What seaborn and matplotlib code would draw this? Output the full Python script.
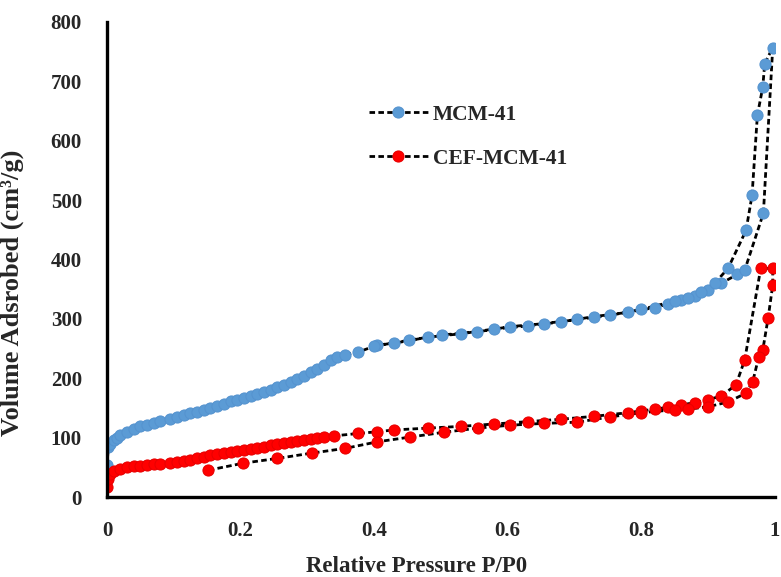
import pandas as pd
import matplotlib
matplotlib.use("Agg")
import matplotlib.pyplot as plt
import seaborn as sns

# MCM-41 adsorption branch (P/P0, cm3/g)
mcm_ads_p = [0.0, 0.002, 0.005, 0.01, 0.015, 0.02, 0.03, 0.04, 0.05, 0.06, 0.07, 0.08,
             0.095, 0.105, 0.115, 0.125, 0.135, 0.145, 0.155, 0.165, 0.175, 0.185, 0.195,
             0.205, 0.215, 0.225, 0.235, 0.245, 0.255, 0.265, 0.275, 0.285, 0.295, 0.305,
             0.315, 0.325, 0.335, 0.345, 0.357, 0.376, 0.405, 0.43, 0.48, 0.53, 0.58, 0.63,
             0.68, 0.73, 0.78, 0.82, 0.84, 0.86, 0.88, 0.90, 0.92, 0.944, 0.955, 0.983, 0.997]
mcm_ads_v = [54, 84, 90, 96, 100, 104, 110, 115, 119, 122, 125, 128,
             132, 135, 138, 141, 144, 147, 150, 154, 157, 161, 164,
             167, 170, 174, 177, 181, 185, 189, 194, 199, 204, 210,
             216, 223, 230, 236, 240, 244, 256, 259, 269, 275, 283, 288,
             295, 304, 311, 319, 325, 331, 338, 348, 360, 375, 382, 478, 757]
# MCM-41 desorption branch
mcm_des_p = [0.985, 0.982, 0.974, 0.966, 0.957, 0.93, 0.91, 0.89, 0.87, 0.85, 0.80,
             0.754, 0.704, 0.654, 0.604, 0.554, 0.502, 0.452, 0.40]
mcm_des_v = [730, 690, 643, 508, 449, 385, 360, 345, 335, 330, 316,
             306, 299, 292, 287, 278, 273, 264, 254]

# CEF-MCM-41 adsorption branch
cef_ads_p = [0.0, 0.002, 0.005, 0.01, 0.02, 0.03, 0.04, 0.05, 0.06, 0.07, 0.08,
             0.095, 0.105, 0.115, 0.125, 0.135, 0.145, 0.155, 0.165, 0.175, 0.185, 0.195,
             0.205, 0.215, 0.225, 0.235, 0.245, 0.255, 0.265, 0.275, 0.285, 0.295, 0.305,
             0.315, 0.325, 0.34, 0.376, 0.405, 0.43, 0.48, 0.53, 0.58, 0.63, 0.68, 0.73,
             0.78, 0.80, 0.82, 0.84, 0.86, 0.88, 0.90, 0.92, 0.942, 0.955, 0.979, 0.997]
cef_ads_v = [17, 30, 38, 43, 48, 51, 52, 53, 54, 55, 56,
             57, 59, 61, 63, 66, 68, 70, 72, 74, 76, 78,
             79, 81, 83, 85, 87, 89, 91, 93, 95, 96, 98,
             100, 101, 103, 107, 110, 113, 116, 119, 123, 127, 131, 136,
             142, 145, 148, 151, 155, 159, 164, 170, 189, 231, 385, 385]
# CEF-MCM-41 desorption branch
cef_des_p = [0.997, 0.99, 0.982, 0.976, 0.967, 0.957, 0.93, 0.90, 0.87, 0.85, 0.80,
             0.754, 0.704, 0.654, 0.604, 0.555, 0.504, 0.454, 0.405, 0.357, 0.307,
             0.255, 0.204, 0.151]
cef_des_v = [357, 301, 247, 236, 194, 175, 160, 152, 148, 147, 142,
             135, 126, 124, 121, 116, 109, 101, 93, 82, 74,
             65, 57, 45]

sns.set_style("white")
plt.rcParams['font.family'] = ['Liberation Serif', 'DejaVu Serif']
plt.rcParams['font.weight'] = 'bold'

mcm = pd.DataFrame({'p': mcm_ads_p + mcm_des_p, 'v': mcm_ads_v + mcm_des_v})
cef = pd.DataFrame({'p': cef_ads_p + cef_des_p, 'v': cef_ads_v + cef_des_v})

fig = plt.figure(figsize=(7.81, 5.77), dpi=100)
ax = fig.add_axes([0.137, 0.1386, 0.855, 0.8233])

line_kw = dict(sort=False, estimator=None, color='black', linestyle='--',
               linewidth=2.0, marker='o', markersize=8)
sns.lineplot(data=mcm, x='p', y='v', ax=ax, label='MCM-41',
             markerfacecolor='#5B9BD5', markeredgecolor='#5593CF', **line_kw)
sns.lineplot(data=cef, x='p', y='v', ax=ax, label='CEF-MCM-41',
             markerfacecolor='#FF0000', markeredgecolor='#E80000', **line_kw)
for ln in ax.get_lines():
    ln.set_dashes((2.0, 1.2))

ax.set_xlim(0, 1)
ax.set_ylim(0, 800)
ax.set_xticks([0, 0.2, 0.4, 0.6, 0.8, 1.0])
ax.set_xticklabels(['0', '0.2', '0.4', '0.6', '0.8', '1'])
ax.set_yticks(range(0, 801, 100))
ax.tick_params(axis='both', length=0, labelsize=15)
ax.tick_params(axis='y', pad=18)
ax.tick_params(axis='x', pad=17)
for lab in ax.get_xticklabels() + ax.get_yticklabels():
    lab.set_fontweight('bold')

for s in ['top', 'right']:
    ax.spines[s].set_visible(False)
for s in ['left', 'bottom']:
    ax.spines[s].set_color('black')
    ax.spines[s].set_linewidth(2.4)

ax.set_xlabel('Relative Pressure P/P0', fontsize=16.5, fontweight='bold')
ax.set_ylabel('Volume Adsrobed (cm³/g)', fontsize=19, fontweight='bold')
ax.xaxis.set_label_coords(0.463, -0.125)
ax.yaxis.set_label_coords(-0.125, 0.43)

leg = ax.legend(loc='upper left', bbox_to_anchor=(0.393, 0.826), frameon=False,
                fontsize=15.5, handlelength=2.7, handletextpad=0.25,
                labelspacing=1.12, borderpad=0, borderaxespad=0)
for t in leg.get_texts():
    t.set_fontweight('bold')

fig.savefig('out.png', dpi=100)
